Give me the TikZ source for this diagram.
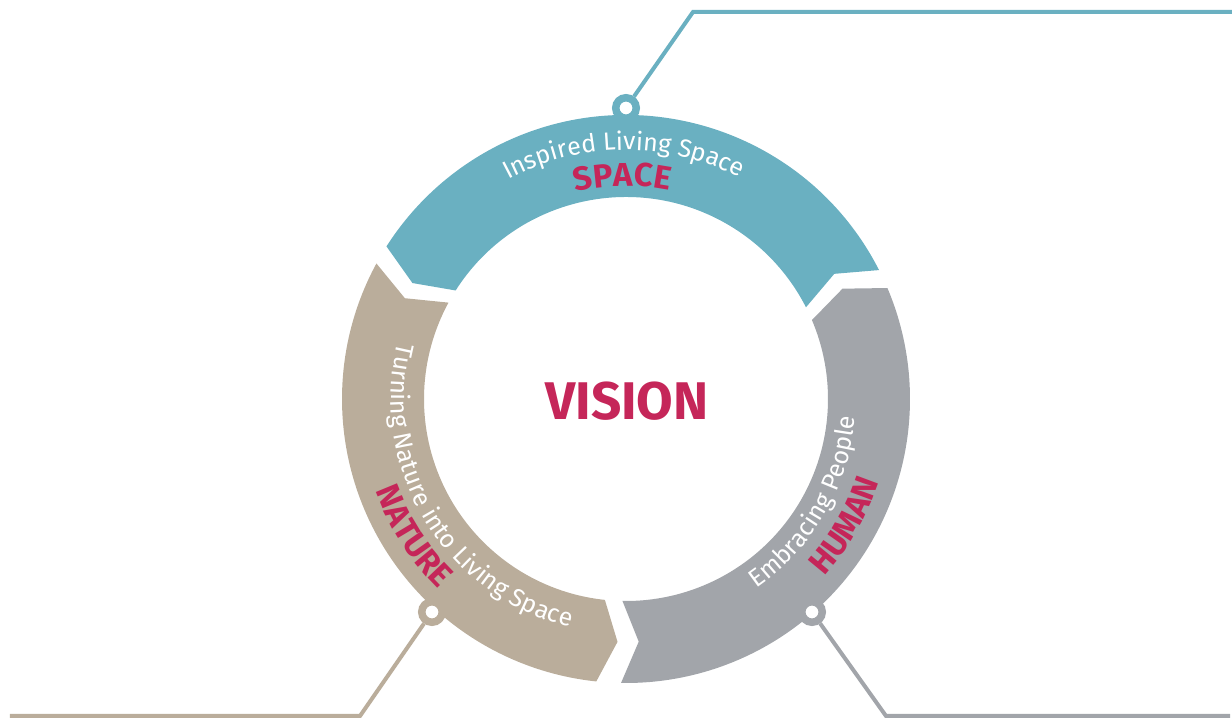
\documentclass[tikz,border=0pt]{standalone}
\usepackage{fontspec}
\setmainfont{Fira Sans}
\usetikzlibrary{decorations.text}
\definecolor{ringblue}{HTML}{6AB0C1}
\definecolor{ringbrown}{HTML}{BAAD9B}
\definecolor{ringgrey}{HTML}{A2A5AA}
\definecolor{accent}{HTML}{C52659}
\begin{document}
\begin{tikzpicture}[x=1pt,y=1pt,
  knob/.style={circle, minimum size=20.5pt, inner sep=0pt, line width=7.5pt, fill=white},
  leader/.style={line width=4pt},
  lighttext/.style={decorate, decoration={text along path, text align=center, text color=white,
     text={|\fontsize{25}{25}\selectfont|#1}}},
  boldtext/.style={decorate, decoration={text along path, text align=center, text color=accent,
     text={|\fontsize{33}{33}\selectfont\bfseries|#1}}}
]
\useasboundingbox (-626,-320) rectangle (606,399);
\def\Ro{284}\def\Ri{202}\def\Rm{243}
% segments (arrows pointing counter-clockwise)
\fill[ringblue] (27:\Ro) arc[start angle=27,end angle=147.5,radius=\Ro] -- (151.5:\Rm) -- (147.5:\Ri)
  arc[start angle=147.5,end angle=27,radius=\Ri] -- (31:\Rm) -- cycle;
\fill[ringbrown] (151.5:\Ro) arc[start angle=151.5,end angle=264,radius=\Ro] -- (268:\Rm) -- (264:\Ri)
  arc[start angle=264,end angle=151.5,radius=\Ri] -- (155.5:\Rm) -- cycle;
\fill[ringgrey] (269:\Ro) arc[start angle=269,end angle=383,radius=\Ro] -- (387:\Rm) -- (383:\Ri)
  arc[start angle=383,end angle=269,radius=\Ri] -- (273:\Rm) -- cycle;
% texts on the ring
\path[lighttext={Inspired Living Space}] (130:249) arc[start angle=130,end angle=51,radius=249];
\path[boldtext={SPACE}] (125:213) arc[start angle=125,end angle=57,radius=213];
\path[lighttext={Turning Nature into Living Space}] (161.2:235) arc[start angle=161.2,end angle=261.2,radius=235];
\path[boldtext={NATURE}] (190:267) arc[start angle=190,end angle=235.6,radius=267];
\path[lighttext={Embracing People}] (290:230) arc[start angle=290,end angle=370,radius=230];
\path[boldtext={HUMAN}] (300:266) arc[start angle=300,end angle=360,radius=266];
% centre
\node[font=\fontsize{53}{53}\selectfont\bfseries, text=accent] (vision) at (1,-2) {VISION};
% knobs and leader lines
\node[knob, draw=ringblue] (kspace) at (0,291) {};
\coordinate (espace) at (67,387);
\coordinate (fspace) at (606,387);
\draw[leader, ringblue] (kspace) -- (espace) -- (fspace);
\node[knob, draw=ringbrown] (knature) at (-194,-213) {};
\coordinate (enature) at (-266,-317);
\coordinate (fnature) at (-616,-317);
\draw[leader, ringbrown] (knature) -- (enature) -- (fnature);
\node[knob, draw=ringgrey] (khuman) at (186,-213) {};
\coordinate (ehuman) at (260,-317);
\coordinate (fhuman) at (604,-317);
\draw[leader, ringgrey] (khuman) -- (ehuman) -- (fhuman);
\end{tikzpicture}
\end{document}
